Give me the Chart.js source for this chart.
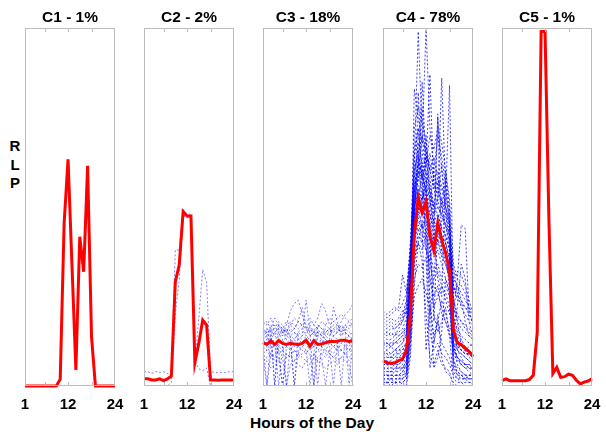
<!DOCTYPE html>
<html>
<head>
<meta charset="utf-8">
<script src="https://cdn.jsdelivr.net/npm/chart.js@4.4.0/dist/chart.umd.min.js"></script>
<style>
  body { margin: 0; background: #fff; }
  #wrap { position: relative; width: 606px; height: 432px; overflow: hidden; }
  canvas { position: absolute; top: 0; }
  .lbl { position: absolute; font: bold 15px "Liberation Sans", Arial, sans-serif; color: #000; transform: translate(-50%, -50%); white-space: nowrap; }
</style>
</head>
<body>
<div id="wrap">
  <div class="lbl" style="left:15px;top:145px">R</div>
  <div class="lbl" style="left:15px;top:164px">L</div>
  <div class="lbl" style="left:15px;top:182px">P</div>
  <div class="lbl" style="left:312px;top:423px;font-size:15.5px">Hours of the Day</div>
</div>
<script>
var hours = [1, 2, 3, 4, 5, 6, 7, 8, 9, 10, 11, 12, 13, 14, 15, 16, 17, 18, 19, 20, 21, 22, 23, 24];
var tickLabels = [1, 12, 24];
var innerTicks = [6, 12, 18];
var titles = ['C1 - 1%', 'C2 - 2%', 'C3 - 18%', 'C4 - 78%', 'C5 - 1%'];

// RLP in % of panel height
var c1Red = [0, 0, 0, 0, 0, 0, 0, 0, 0, 1.9, 45.4, 63.3, 33.9, 4.5, 41.7, 31.9, 61.5, 13.8, 0, 0, 0, 0, 0, 0];
var c1Blue = [];

var c2Red = [2, 2, 1.7, 1.7, 2, 1.5, 2, 2.8, 29.1, 33.8, 48.7, 47.5, 47.5, 6.5, 11.9, 18.4, 17, 1.7, 1.7, 1.6, 1.7, 1.7, 1.7, 1.7];
var c2Blue = [
  [4, 4, 3.5, 4, 3.8, 4, 3.5, 3, 38, 38, 49.5, 48, 48, 6, 19, 32.5, 29, 4, 3.8, 3.8, 3.8, 3.8, 4, 4],
  [0, 0, 0, 0, 0, 0, 0, 1, 20, 29.6, 47.5, 47, 47, 7, 4.8, 4.3, 5, 0, 0, 0, 0, 0, 0, 0]
];

var c3Red = [12.1, 11.6, 12.6, 11.6, 12.7, 11.9, 11.6, 11.9, 11.7, 11.6, 11.9, 12.8, 11.1, 12.7, 11.6, 11.7, 12.1, 12.4, 12.4, 12.5, 12.8, 12.8, 12.4, 12.8];
var c3Blue = [
  [15, 16, 14, 17, 15, 16, 14, 15, 16, 18, 22, 17, 15, 16, 14, 15, 17, 16, 15, 16, 18, 20, 21, 23],
  [13, 12, 14, 0, 13, 12, 14, 13, 11, 13, 12, 14, 13, 12, 15, 14, 13, 12, 14, 13, 12, 13, 14, 13],
  [10, 11, 9, 12, 10, 0, 11, 10, 12, 11, 10, 9, 11, 12, 10, 11, 9, 10, 11, 12, 10, 11, 10, 12],
  [18, 17, 19, 16, 18, 17, 15, 18, 17, 16, 17, 18, 19, 17, 16, 18, 17, 19, 18, 17, 16, 17, 18, 17],
  [8, 0, 9, 8, 10, 9, 8, 9, 10, 8, 9, 10, 9, 0, 8, 9, 10, 9, 8, 9, 10, 9, 8, 9],
  [14, 15, 13, 15, 14, 16, 15, 14, 13, 15, 14, 15, 16, 14, 15, 14, 16, 15, 14, 15, 16, 15, 14, 15],
  [12, 13, 11, 12, 0, 11, 12, 13, 12, 11, 12, 13, 12, 11, 12, 13, 12, 11, 0, 12, 13, 12, 11, 13],
  [16, 14, 17, 15, 16, 14, 17, 21, 23, 24, 20, 16, 14, 15, 17, 16, 14, 15, 16, 17, 15, 16, 17, 16],
  [6, 7, 5, 6, 7, 8, 0, 6, 7, 6, 5, 7, 6, 8, 7, 6, 5, 6, 7, 6, 8, 7, 6, 0],
  [17, 18, 16, 19, 17, 16, 18, 17, 19, 18, 17, 16, 18, 17, 19, 23, 21, 17, 18, 19, 20, 19, 18, 19],
  [11, 10, 12, 11, 9, 10, 11, 12, 0, 10, 11, 12, 10, 11, 12, 11, 10, 12, 11, 10, 12, 11, 10, 11],
  [13, 14, 12, 13, 14, 15, 13, 14, 15, 14, 13, 12, 14, 15, 13, 12, 14, 13, 22, 18, 14, 15, 14, 13],
  [9, 10, 8, 9, 11, 10, 9, 8, 10, 9, 11, 10, 0, 9, 10, 9, 8, 10, 9, 11, 10, 9, 10, 9],
  [15, 13, 16, 14, 13, 15, 14, 16, 15, 13, 14, 24, 16, 15, 14, 13, 15, 14, 16, 15, 14, 16, 15, 14],
  [12, 0, 13, 12, 11, 13, 0, 12, 13, 11, 12, 13, 12, 11, 0, 12, 13, 12, 11, 12, 0, 13, 12, 11],
  [16, 15, 16, 0, 17, 16, 15, 17, 16, 18, 17, 16, 15, 0, 17, 16, 15, 16, 17, 16, 15, 17, 16, 18],
  [7, 8, 9, 7, 8, 0, 9, 8, 7, 9, 8, 7, 8, 9, 7, 8, 0, 9, 8, 7, 8, 9, 7, 8],
  [14, 16, 15, 14, 17, 15, 16, 14, 0, 15, 16, 14, 17, 15, 16, 14, 15, 16, 14, 15, 17, 16, 0, 15]
];

var c4Red = [7.1, 6.5, 6.3, 6.5, 7.1, 7.5, 10, 20, 42, 52.7, 48.4, 51.5, 41.7, 37.8, 45.6, 40.8, 37.1, 32.4, 15.6, 12.1, 11.5, 10.5, 9.6, 8.2];
var c4Blue = [
  [5, 4, 4, 5, 6, 7, 12, 35, 62, 99, 70, 65, 60, 55, 58, 52, 48, 40, 15, 10, 9, 8, 7, 6],
  [3, 3, 2, 3, 3, 4, 6, 25, 83, 75, 68, 100, 72, 60, 55, 50, 45, 38, 12, 8, 6, 5, 4, 3],
  [10, 9, 9, 10, 11, 12, 15, 30, 55, 60, 85, 62, 58, 50, 52, 86, 55, 45, 18, 14, 12, 11, 10, 9],
  [15, 14, 15, 14, 16, 18, 22, 40, 60, 65, 58, 62, 87, 55, 50, 48, 52, 84, 22, 18, 16, 15, 14, 13],
  [1, 1, 1, 1, 1, 1, 2, 15, 45, 50, 48, 55, 50, 45, 75, 60, 50, 42, 8, 3, 2, 2, 1, 1],
  [20, 19, 20, 21, 22, 31, 26, 38, 58, 68, 62, 64, 55, 48, 52, 47, 45, 40, 30, 28, 26, 24, 22, 20],
  [8, 7, 7, 8, 8, 9, 10, 28, 50, 55, 52, 58, 40, 18, 45, 42, 40, 35, 14, 12, 10, 9, 9, 8],
  [2, 2, 2, 2, 2, 3, 5, 20, 40, 45, 42, 48, 44, 38, 40, 36, 34, 30, 6, 4, 3, 2, 2, 2],
  [12, 11, 12, 12, 13, 14, 16, 32, 48, 52, 60, 54, 48, 44, 46, 42, 40, 36, 20, 30, 45, 44, 20, 18],
  [6, 6, 5, 6, 6, 7, 9, 22, 38, 42, 40, 44, 30, 25, 28, 20, 18, 15, 10, 8, 7, 6, 6, 5],
  [4, 4, 4, 4, 5, 5, 7, 18, 35, 40, 46, 38, 35, 30, 32, 28, 26, 22, 9, 7, 6, 5, 5, 4],
  [18, 17, 18, 17, 18, 20, 24, 36, 52, 58, 55, 50, 48, 42, 44, 40, 38, 34, 28, 25, 24, 22, 20, 18],
  [9, 9, 8, 9, 10, 10, 12, 30, 66, 72, 60, 58, 52, 46, 48, 44, 42, 38, 16, 13, 11, 10, 10, 9],
  [0, 0, 0, 0, 0, 0, 1, 10, 30, 34, 33, 36, 5, 12, 20, 8, 4, 3, 1, 0, 0, 0, 0, 0],
  [14, 13, 13, 14, 15, 16, 19, 34, 56, 62, 78, 60, 54, 50, 57, 50, 58, 48, 24, 20, 18, 16, 15, 14],
  [7, 7, 6, 7, 8, 8, 10, 26, 44, 48, 46, 50, 46, 40, 76, 38, 36, 32, 12, 10, 9, 8, 7, 6],
  [11, 10, 11, 10, 11, 12, 14, 29, 50, 54, 52, 56, 65, 58, 52, 62, 50, 44, 19, 16, 14, 13, 12, 11],
  [3, 3, 3, 3, 3, 4, 6, 22, 42, 47, 44, 46, 42, 36, 38, 34, 30, 26, 7, 5, 4, 3, 3, 3],
  [16, 15, 16, 16, 17, 19, 23, 38, 55, 60, 58, 56, 52, 44, 40, 46, 48, 42, 33, 26, 22, 20, 18, 17],
  [5, 5, 5, 5, 5, 6, 8, 24, 46, 82, 56, 60, 56, 50, 48, 44, 42, 38, 11, 8, 6, 6, 5, 5],
  [13, 12, 12, 13, 14, 15, 17, 33, 52, 56, 54, 52, 50, 60, 70, 64, 56, 46, 26, 28, 24, 18, 14, 13],
  [1, 1, 1, 1, 1, 2, 3, 14, 25, 28, 30, 26, 22, 14, 18, 12, 10, 8, 4, 2, 1, 1, 1, 1],
  [9, 8, 8, 9, 9, 10, 12, 27, 48, 64, 50, 70, 52, 46, 44, 40, 38, 36, 15, 12, 10, 9, 9, 8],
  [17, 16, 17, 16, 17, 18, 21, 35, 54, 58, 70, 58, 54, 48, 50, 48, 45, 42, 22, 19, 18, 17, 16, 15],
  [2, 2, 2, 2, 2, 2, 4, 17, 36, 40, 38, 42, 38, 32, 34, 30, 28, 25, 5, 3, 3, 2, 2, 2],
  [6, 6, 6, 6, 7, 7, 9, 23, 42, 46, 44, 49, 45, 39, 41, 37, 34, 30, 10, 8, 7, 6, 6, 6],
  [0, 0, 0, 0, 0, 0, 0, 8, 28, 40, 35, 20, 8, 6, 10, 6, 5, 4, 0, 0, 0, 0, 0, 0],
  [19, 18, 19, 18, 19, 21, 20, 30, 48, 55, 50, 46, 30, 22, 25, 28, 24, 20, 30, 32, 31, 28, 24, 20],
  [4, 3, 3, 4, 4, 5, 6, 20, 50, 58, 62, 40, 15, 10, 12, 9, 8, 6, 3, 2, 2, 2, 3, 3],
  [11, 12, 11, 12, 13, 14, 15, 25, 45, 70, 66, 50, 42, 20, 15, 18, 22, 14, 12, 11, 10, 10, 11, 12],
  [7, 6, 7, 6, 7, 8, 10, 32, 72, 78, 74, 68, 60, 64, 58, 55, 50, 45, 25, 18, 12, 10, 8, 7],
  [2, 1, 2, 1, 2, 2, 3, 18, 40, 50, 44, 10, 22, 5, 8, 15, 30, 26, 12, 6, 4, 3, 2, 2],
  [14, 15, 14, 15, 14, 15, 16, 36, 60, 66, 58, 62, 70, 66, 72, 68, 60, 52, 34, 30, 28, 26, 22, 16],
  [5, 5, 4, 5, 5, 5, 7, 26, 54, 62, 58, 55, 35, 42, 30, 25, 60, 50, 18, 10, 8, 6, 5, 5],
  [9, 10, 9, 10, 10, 11, 12, 24, 46, 50, 48, 52, 48, 42, 44, 38, 35, 30, 14, 11, 10, 9, 9, 9],
  [21, 20, 21, 22, 21, 23, 26, 40, 64, 72, 68, 66, 60, 56, 54, 52, 50, 46, 28, 24, 23, 22, 21, 20],
  [3, 3, 3, 3, 3, 3, 4, 14, 42, 48, 52, 56, 20, 30, 46, 52, 40, 26, 5, 4, 3, 3, 3, 3],
  [12, 12, 11, 12, 12, 13, 14, 28, 50, 60, 56, 40, 25, 12, 18, 24, 20, 16, 16, 22, 34, 30, 18, 13],
  [0, 1, 0, 1, 0, 1, 2, 12, 34, 44, 40, 38, 34, 28, 26, 22, 18, 14, 2, 1, 1, 0, 0, 1],
  [8, 8, 8, 8, 9, 9, 11, 30, 56, 62, 60, 64, 62, 58, 60, 56, 52, 48, 20, 15, 13, 11, 10, 9]
];

var c5Red = [1.5, 2, 1.5, 1.5, 1.5, 1.5, 1.5, 1.8, 3, 15, 99, 99, 46, 3.5, 5.2, 2.4, 2.6, 3.3, 3, 1.6, 0.6, 1.1, 1.4, 2];
var c5Blue = [];

var redSeries = [c1Red, c2Red, c3Red, c4Red, c5Red];
var blueSeries = [c1Blue, c2Blue, c3Blue, c4Blue, c5Blue];

var panelLeft = [25, 144, 263, 383, 502];
var blueAlpha = [0.5, 0.5, 0.5, 0.75, 0.5];
var fontFam = '"Liberation Sans", Arial, sans-serif';

var framePlugin = {
    id: 'frame',
    afterDatasetsDraw: function (chart) {
        var a = chart.chartArea;
        var ctx = chart.ctx;
        var xs = chart.scales.x;
        ctx.save();
        ctx.strokeStyle = '#bcbcbc';
        ctx.lineWidth = 1;
        ctx.strokeRect(Math.round(a.left) + 0.5, Math.round(a.top) + 0.5, Math.round(a.width) - 1, Math.round(a.height) - 1);
        innerTicks.forEach(function (h) {
            var px = Math.round(xs.getPixelForValue(hours.indexOf(h))) + 0.5;
            ctx.beginPath();
            ctx.moveTo(px, a.top);
            ctx.lineTo(px, a.top + 4);
            ctx.moveTo(px, a.bottom);
            ctx.lineTo(px, a.bottom - 4);
            ctx.stroke();
        });
        ctx.restore();
    }
};

redSeries.forEach(function (red, i) {
    var cv = document.createElement('canvas');
    cv.width = 130;
    cv.height = 432;
    cv.style.left = (panelLeft[i] - 20) + 'px';
    cv.style.width = '130px';
    cv.style.height = '432px';
    document.getElementById('wrap').appendChild(cv);

    var datasets = [{
        data: red,
        borderColor: '#ff0000',
        borderWidth: 3,
        pointRadius: 0,
        tension: 0,
        clip: 3
    }];
    blueSeries[i].forEach(function (b) {
        datasets.push({
            data: b,
            borderColor: 'rgba(0, 0, 255, ' + blueAlpha[i] + ')',
            borderWidth: 1,
            borderDash: [2, 2],
            pointRadius: 0,
            tension: 0
        });
    });

    new Chart(cv.getContext('2d'), {
        type: 'line',
        data: {
            labels: hours,
            datasets: datasets
        },
        options: {
            responsive: false,
            animation: false,
            events: [],
            layout: {
                padding: { left: 20, right: 20, top: 0, bottom: 0 }
            },
            plugins: {
                legend: { display: false },
                tooltip: { enabled: false },
                title: {
                    display: true,
                    text: titles[i],
                    color: '#000',
                    font: { family: fontFam, size: 15.5, weight: 'bold' },
                    padding: { top: 8, bottom: 1.4 }
                }
            },
            scales: {
                x: {
                    offset: false,
                    grid: { display: false, drawTicks: false },
                    border: { display: false },
                    ticks: {
                        autoSkip: false,
                        maxRotation: 0,
                        padding: 10,
                        color: '#000',
                        font: { family: fontFam, size: 15, weight: 'bold' },
                        callback: function (v, idx) {
                            return tickLabels.indexOf(hours[idx]) >= 0 ? hours[idx] : '';
                        }
                    },
                    afterFit: function (s) { s.height = 46; }
                },
                y: {
                    display: false,
                    min: 0,
                    max: 100
                }
            }
        },
        plugins: [framePlugin]
    });
});
</script>
</body>
</html>
